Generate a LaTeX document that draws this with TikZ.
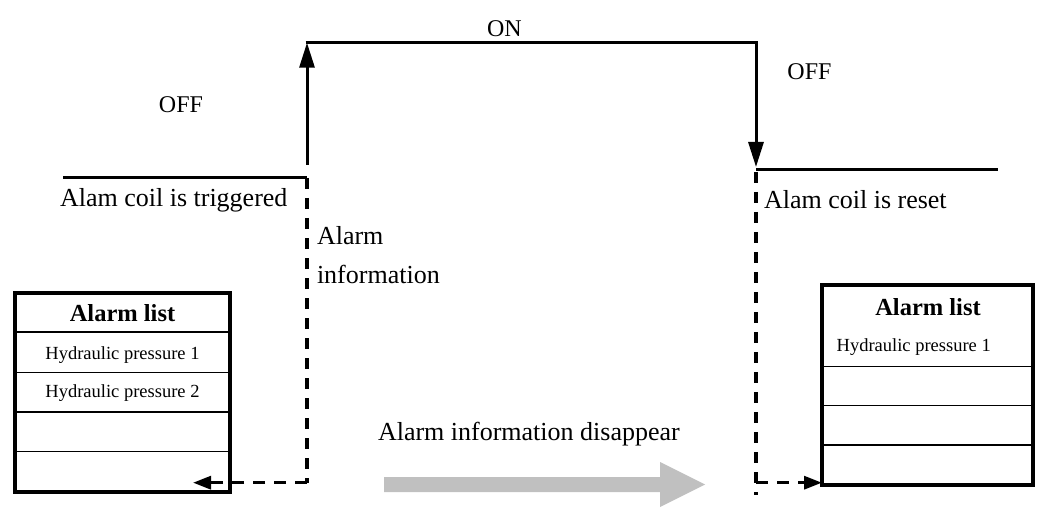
\documentclass[tikz,border=0pt]{standalone}
\usepackage{fontspec}
\setmainfont{Liberation Serif}
\usetikzlibrary{arrows.meta}
\begin{document}
\begin{tikzpicture}[x=1pt,y=-1pt,
  lbl/.style={inner sep=0pt,outer sep=0pt,font=\fontsize{26}{39}\selectfont},
  onoff/.style={inner sep=0pt,outer sep=0pt,font=\fontsize{24}{28}\selectfont},
  head/.style={inner sep=0pt,outer sep=0pt,font=\fontsize{24.5}{28}\selectfont\bfseries},
  item/.style={inner sep=0pt,outer sep=0pt,font=\fontsize{18.5}{22}\selectfont},
  signal/.style={line width=3pt},
  sigarrow/.style={line width=3pt,-{Triangle[length=25pt,width=15pt]}},
  dline/.style={line width=3.2pt,dash pattern=on 11pt off 9pt},
  darrow/.style={line width=3.2pt,dash pattern=on 12pt off 9pt,-{Triangle[length=18pt,width=13pt]}},
  listbox/.style={line width=4pt},
  rowline/.style={line width=1.3pt}]
\useasboundingbox (0,0) rectangle (1037,508);
% signal waveform
\coordinate (p1) at (63,178);
\coordinate (p2) at (307,178);
\coordinate (p3) at (307,165);
\coordinate (p4) at (307,42.7);
\coordinate (p5) at (756,42.7);
\coordinate (p6) at (756,167);
\coordinate (p7) at (756,169.5);
\coordinate (p8) at (998,169.5);
\draw[signal] (p1) -- (p2);
\draw[sigarrow] (p3) -- (p4);
\draw[signal] ([xshift=-1.5pt]p4) -- ([xshift=1.5pt]p5);
\draw[sigarrow] (p5) -- (p6);
\draw[signal] (p7) -- (p8);
% labels
\node[onoff,anchor=base] (off1) at (181,113) {OFF};
\node[onoff,anchor=base] (on) at (504.5,37) {ON};
\node[onoff,anchor=base] (off2) at (809.5,80) {OFF};
\node[lbl,anchor=base west] (trig) at (60,207) {Alam coil is triggered};
\node[lbl,anchor=base west] (reset) at (764,208) {Alam coil is reset};
\node[lbl,anchor=base west,align=left] (info) at (317,283) {Alarm\\information};
\node[lbl,anchor=base west] (dis) at (378,440) {Alarm information disappear};
% left alarm list
\draw[listbox] (15,293) rectangle (230,492);
\node (lbox) at (122.5,392.5) [minimum width=215pt,minimum height=199pt,inner sep=0pt] {};
\foreach \yy in {332,372.5,412,451.5} \draw[rowline] (15,\yy) -- (230,\yy);
\node[head,anchor=base] (lh) at (122.5,321.7) {Alarm list};
\node[item,anchor=base] (lh1) at (122.5,359) {Hydraulic pressure 1};
\node[item,anchor=base] (lh2) at (122.5,397.7) {Hydraulic pressure 2};
% right alarm list
\draw[listbox] (822,285) rectangle (1033,485);
\node (rbox) at (927.5,385) [minimum width=211pt,minimum height=200pt,inner sep=0pt] {};
\foreach \yy in {366.7,405.3,445} \draw[rowline] (822,\yy) -- (1033,\yy);
\node[head,anchor=base] (rh) at (928,315) {Alarm list};
\node[item,anchor=base west] (rh1) at (836.7,351.7) {Hydraulic pressure 1};
% dashed connectors
\coordinate (d1) at (307,178);
\coordinate (d2) at (307,482.7);
\coordinate (d3) at (193,482.7);
\coordinate (e1) at (756,172);
\coordinate (e2) at (756,495);
\coordinate (e3) at (756,482.7);
\coordinate (e4) at (822,482.7);
\draw[dline] (d1) -- (d2);
\draw[darrow] (d2) -- (d3);
\draw[dline] (e1) -- (e2);
\draw[darrow] (e3) -- (e4);
% gray arrow
\fill[fill={rgb,255:red,192;green,192;blue,192}] (384,477) -- (660,477) -- (660,462) -- (705,484.5) -- (660,507) -- (660,492) -- (384,492) -- cycle;
\end{tikzpicture}
\end{document}
